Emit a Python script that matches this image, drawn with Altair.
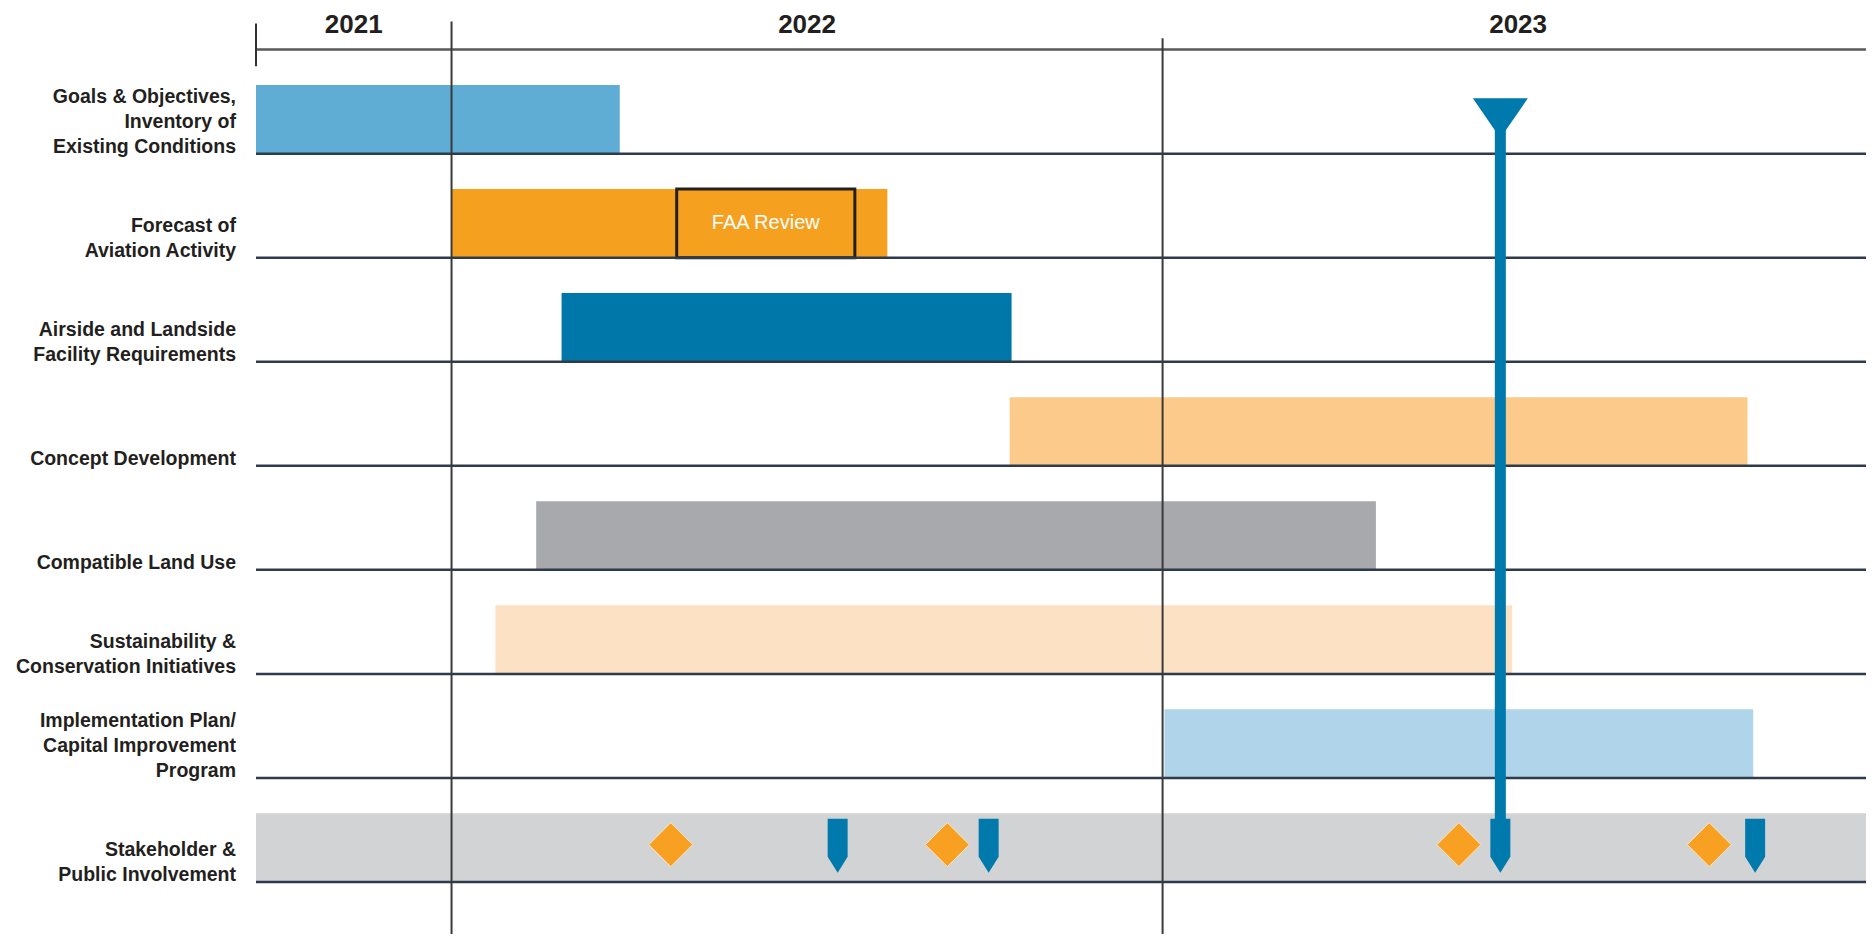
import altair as alt
import pandas as pd

# ---------------- data ----------------
tasks = [
    "Goals & Objectives,\nInventory of\nExisting Conditions",
    "Forecast of\nAviation Activity",
    "Airside and Landside\nFacility Requirements",
    "Concept Development",
    "Compatible Land Use",
    "Sustainability &\nConservation Initiatives",
    "Implementation Plan/\nCapital Improvement\nProgram",
    "Stakeholder &\nPublic Involvement",
]
task_start = ["2021-09-22", "2022-01-01", "2022-02-25", "2022-10-14",
              "2022-02-13", "2022-01-24", "2023-01-02", "2021-09-22"]
task_end = ["2022-03-27", "2022-08-12", "2022-10-15", "2023-10-28",
            "2023-04-19", "2023-06-28", "2023-10-31", "2023-12-28"]
task_colors = ["#5fadd5", "#f6a01f", "#0077a9", "#fcca8b",
               "#a7a9ac", "#fde1c4", "#b0d4e9", "#d1d3d4"]

faa_label = ["FAA Review"]
faa_start = ["2022-04-25"]
faa_end = ["2022-07-26"]

meeting_dates = ["2022-04-22", "2022-09-12", "2023-06-01", "2023-10-08"]      # orange diamonds
deliverable_dates = ["2022-07-17", "2022-10-03", "2023-06-22", "2023-11-01"]  # blue flags
today_date = ["2023-06-22"]

years = ["2021", "2022", "2023"]
year_starts = ["2021-09-22", "2022-01-01", "2023-01-01"]
year_ends = ["2022-01-01", "2023-01-01", "2024-01-01"]
view_end = "2023-12-28"

# ---------------- helpers ----------------
def month_index(d):
    ts = pd.Timestamp(d)
    return (ts.year - 2021) * 12 + ts.month - 1 + (ts.day - 1) / ts.days_in_month

FONT = "Liberation Sans, Arial, sans-serif"
BAR_H = 0.66          # bar height as a fraction of a row
ROW_PX = 104.04       # pixels per row
LINE_H = 25 / ROW_PX  # label line height in row units
PX_PER_MONTH = 59.27

x0 = month_index(year_starts[0])
x1 = month_index(view_end)
WIDTH = round((x1 - x0) * PX_PER_MONTH)
Y_DOMAIN = [-0.4, 8.5]
HEIGHT = round((Y_DOMAIN[1] - Y_DOMAIN[0]) * ROW_PX)

X = alt.Scale(domain=[x0, x1], nice=False, zero=False)
Y = alt.Scale(domain=Y_DOMAIN, nice=False, zero=False, reverse=True)

df_tasks = pd.DataFrame({
    "task": tasks,
    "row": list(range(1, len(tasks) + 1)),
    "start": [month_index(d) for d in task_start],
    "end": [month_index(d) for d in task_end],
    "color": task_colors,
})
df_tasks["top"] = df_tasks["row"] - BAR_H
df_tasks["lo"] = x0
df_tasks["hi"] = x1

marker_y = len(tasks) - BAR_H / 2

bars = alt.Chart(df_tasks).mark_rect().encode(
    x=alt.X("start:Q", scale=X, axis=None),
    x2="end:Q",
    y=alt.Y("top:Q", scale=Y, axis=None),
    y2="row:Q",
    color=alt.Color("color:N", scale=None),
)

df_faa = pd.DataFrame({
    "label": faa_label,
    "start": [month_index(d) for d in faa_start],
    "end": [month_index(d) for d in faa_end],
    "row": [2],
})
df_faa["top"] = df_faa["row"] - BAR_H
df_faa["mid"] = (df_faa["start"] + df_faa["end"]) / 2
df_faa["ymid"] = df_faa["row"] - BAR_H / 2

faa_box = alt.Chart(df_faa).mark_rect(
    fill="transparent", stroke="#231f20", strokeWidth=3
).encode(
    x=alt.X("start:Q", scale=X, axis=None), x2="end:Q",
    y=alt.Y("top:Q", scale=Y, axis=None), y2="row:Q",
)
faa_text = alt.Chart(df_faa).mark_text(
    font=FONT, fontSize=20, color="white", baseline="middle", align="center"
).encode(
    x=alt.X("mid:Q", scale=X, axis=None),
    y=alt.Y("ymid:Q", scale=Y, axis=None),
    text="label:N",
)

row_lines = alt.Chart(df_tasks).mark_rule(color="#2e3b4a", strokeWidth=2.5).encode(
    x=alt.X("lo:Q", scale=X, axis=None), x2="hi:Q",
    y=alt.Y("row:Q", scale=Y, axis=None),
)

# multi-line row labels: one text item per line, stacked upward from the row line
label_rows = []
for r, t in zip(df_tasks["row"], tasks):
    lines = t.split("\n")
    n = len(lines)
    for i, ln in enumerate(lines):
        label_rows.append({"line": ln, "y": r - (n - 1 - i) * LINE_H, "lo": x0})
df_labels = pd.DataFrame(label_rows)

row_labels = alt.Chart(df_labels).mark_text(
    align="right", baseline="alphabetic", dx=-20, dy=-1,
    fontSize=19.5, fontWeight="bold", font=FONT, color="#231f20",
).encode(
    x=alt.X("lo:Q", scale=X, axis=None),
    y=alt.Y("y:Q", scale=Y, axis=None),
    text="line:N",
)

# top timeline axis
df_axis = pd.DataFrame({"lo": [x0], "hi": [x1], "y": [0.0], "t0": [-0.25], "t1": [0.16]})
axis_line = alt.Chart(df_axis).mark_rule(color="#58595b", strokeWidth=2.5).encode(
    x=alt.X("lo:Q", scale=X, axis=None), x2="hi:Q",
    y=alt.Y("y:Q", scale=Y, axis=None),
)
axis_tick = alt.Chart(df_axis).mark_rule(color="#333333", strokeWidth=2).encode(
    x=alt.X("lo:Q", scale=X, axis=None),
    y=alt.Y("t0:Q", scale=Y, axis=None), y2="t1:Q",
)

df_years = pd.DataFrame({
    "year": years,
    "mid": [(month_index(a) + month_index(b)) / 2 for a, b in zip(year_starts, year_ends)],
    "y": [-0.235] * len(years),
})
year_labels = alt.Chart(df_years).mark_text(
    font=FONT, fontSize=26, fontWeight="bold", color="#231f20", baseline="middle"
).encode(
    x=alt.X("mid:Q", scale=X, axis=None),
    y=alt.Y("y:Q", scale=Y, axis=None),
    text="year:N",
)

df_bounds = pd.DataFrame({
    "x": [month_index(d) for d in year_starts[1:]],
    "ytop": [-0.27, -0.11],
    "ybot": [8.5, 8.5],
})
year_lines = alt.Chart(df_bounds).mark_rule(color="#3a3a3a", strokeWidth=2).encode(
    x=alt.X("x:Q", scale=X, axis=None),
    y=alt.Y("ytop:Q", scale=Y, axis=None), y2="ybot:Q",
)

df_meet = pd.DataFrame({"x": [month_index(d) for d in meeting_dates], "y": marker_y})
diamonds = alt.Chart(df_meet).mark_point(
    shape="diamond", filled=True, size=1936, color="#f7a021", opacity=1,
    stroke="#fde6c8", strokeWidth=1, yOffset=-3,
).encode(
    x=alt.X("x:Q", scale=X, axis=None),
    y=alt.Y("y:Q", scale=Y, axis=None),
)

df_deliv = pd.DataFrame({"x": [month_index(d) for d in deliverable_dates], "y": marker_y})
flags = alt.Chart(df_deliv).mark_point(
    shape="M-0.37,-1L0.37,-1L0.37,0.41L0,1L-0.37,0.41Z",
    filled=True, size=2916, color="#0079ad", opacity=1, yOffset=-2,
).encode(
    x=alt.X("x:Q", scale=X, axis=None),
    y=alt.Y("y:Q", scale=Y, axis=None),
)

df_today = pd.DataFrame({"x": [month_index(d) for d in today_date], "y": [0.66], "y2": [marker_y]})
today_rule = alt.Chart(df_today).mark_rule(color="#0079ad", strokeWidth=11).encode(
    x=alt.X("x:Q", scale=X, axis=None),
    y=alt.Y("y:Q", scale=Y, axis=None), y2="y2:Q",
)
today_tri = alt.Chart(df_today).mark_point(
    shape="M-1,-0.73L1,-0.73L0,0.73Z", filled=True, size=3025, color="#0079ad", opacity=1,
).encode(
    x=alt.X("x:Q", scale=X, axis=None),
    y=alt.Y("y:Q", scale=Y, axis=None),
)

chart = alt.layer(
    bars, faa_box, faa_text, row_lines, axis_line, axis_tick, year_lines,
    year_labels, row_labels, diamonds, flags, today_rule, today_tri,
).properties(
    width=WIDTH, height=HEIGHT,
    padding={"left": 248, "top": 0, "right": 0, "bottom": 0},
    autosize="none",
    background="white",
).configure_view(strokeWidth=0)

chart.save("out.html", embed_options={"renderer": "svg", "actions": False})
